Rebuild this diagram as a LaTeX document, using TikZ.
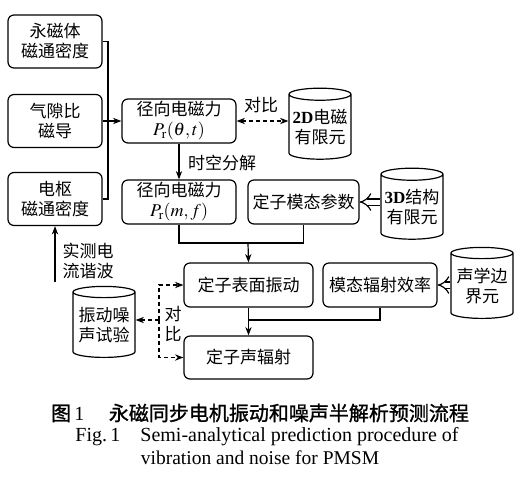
\documentclass[tikz,border=0pt]{standalone}
\usepackage{mathptmx}
\usepackage{fontspec}
\setmainfont{Liberation Serif}
\newfontfamily\cjk{Noto Sans CJK SC}
\newfontfamily\cjkcap[FakeBold=1.2]{Noto Sans CJK SC}
\usetikzlibrary{shapes.geometric,arrows.meta}

\begin{document}
\begin{tikzpicture}[x=1pt,y=-1pt,>=Stealth,line width=1.2pt,
    box/.style={draw,rounded corners=6pt,align=center,inner sep=0pt,
      font=\cjk\fontsize{17}{20}\selectfont},
    db/.style={draw,cylinder,shape border rotate=90,aspect=0.22,align=center,
      inner sep=0pt,minimum width=62,minimum height=71,
      font=\cjk\fontsize{17}{20}\selectfont},
    lbl/.style={align=center,inner sep=0pt,font=\cjk\fontsize{17}{20}\selectfont},
    cmpline/.style={dash pattern=on 4pt off 3pt},
    hollow/.style={double,double distance=5pt,line width=1.2pt,-{Implies[scale=1.25]}}]
    \useasboundingbox (0,0) rectangle (529,491);

    % Inputs
    \node[box,minimum width=94,minimum height=53] (pm) at (55,41.5) {永磁体\\磁通密度};
    \node[box,minimum width=94,minimum height=53] (gap) at (55,121) {气隙比\\磁导};
    \node[box,minimum width=94,minimum height=53] (arm) at (55,199) {电枢\\磁通密度};

    % Radial force
    \node[box,minimum width=114,minimum height=44] (fr1) at (179,121) {径向电磁力\\{\fontsize{18}{20}\selectfont$P_{\mathrm{r}}(\theta,t)$}};
    \node[box,minimum width=114,minimum height=44] (fr2) at (179,202) {径向电磁力\\{\fontsize{18}{20}\selectfont$P_{\mathrm{r}}(m,f)$}};
    \node[box,minimum width=111,minimum height=44] (modal) at (303.5,202) {定子模态参数};
    \node[db] (fem2) at (320,127) {{\rmfamily\bfseries 2D}电磁\\有限元};
    \node[db] (fem3) at (412,207) {{\rmfamily\bfseries 3D}结构\\有限元};

    % Vibration and noise
    \node[box,minimum width=129,minimum height=44] (surf) at (248.5,285) {定子表面振动};
    \node[box,minimum width=114,minimum height=44] (eff) at (380,285) {模态辐射效率};
    \node[db] (bem) at (482,286) {声学边\\界元};
    \node[box,minimum width=129,minimum height=43] (rad) at (248.5,357.5) {定子声辐射};
    \node[db] (test) at (104,325) {振动噪\\声试验};

    % Labels
    \node[lbl] (dec) at (222,163) {时空分解};
    \node[lbl] (cmp1) at (261,105) {对比};
    \node[lbl] (meas) at (88,261) {实测电\\流谐波};
    \node[lbl] (cmp2) at (173,324) {对\\比};

    % Connectors
    \coordinate (bus) at (108,121);
    \draw (pm.east) -| (bus) |- (arm.east);
    \draw (gap.east) -- (bus);
    \draw[->] (bus) -- (fr1.west);
    \draw[->] (fr1) -- (fr2);
    \draw[<->,cmpline] (fr1.east) -- (fr1.east -| fem2.west);
    \coordinate (join1) at (248,243);
    \draw (fr2.south) |- (join1) -| (modal.south);
    \draw[->] (join1) -- (surf.north);
    \draw[hollow] (fem3.west |- modal.east) -- (modal.east);
    \draw[hollow] (bem.west |- eff.east) -- (eff.east);
    \coordinate (join2) at (248.5,320);
    \draw (eff.south) |- (join2);
    \draw[->] (surf.south) -- (rad.north);
    \coordinate (cmpbus) at (159,320);
    \draw[->,cmpline] (cmpbus) |- (surf.west);
    \draw[->,cmpline] (cmpbus) |- (rad.west);
    \draw[->,cmpline] (cmpbus) -- (cmpbus -| test.east);
    \coordinate (measbot) at (55,282);
    \draw[->] (measbot) -- (arm.south);

    % Caption
    \node[inner sep=0pt,font=\cjkcap\fontsize{20}{23}\selectfont] (cap1) at (260,413) {图\,{\rmfamily 1}\quad\ 永磁同步电机振动和噪声半解析预测流程};
    \node[inner sep=0pt,font=\fontsize{20}{22}\selectfont] (cap2) at (267,437) {Fig.\,1\quad Semi-analytical prediction procedure of};
    \node[inner sep=0pt,font=\fontsize{19.5}{22}\selectfont] (cap3) at (260,458) {vibration and noise for PMSM};
\end{tikzpicture}
\end{document}
